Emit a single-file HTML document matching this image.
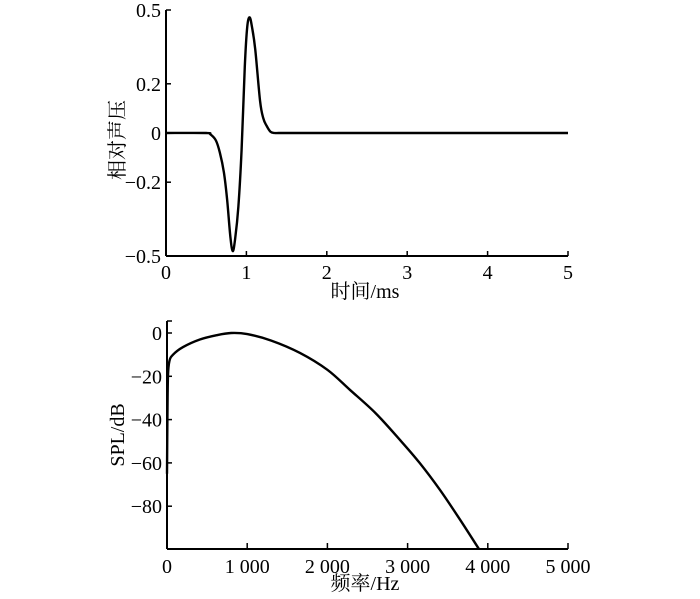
<!DOCTYPE html>
<html><head><meta charset="utf-8"><style>
body{margin:0;background:#fff;}
text{font-family:"Liberation Serif","Noto Serif CJK SC",serif;fill:#000;}
</style></head><body>
<svg id="c" width="700" height="594" viewBox="0 0 700 594"></svg>
<script>
const timeVals=[0,0.5,0.55,0.62,0.67,0.72,0.76,0.8,0.83,0.86,0.9,0.94,0.98,1.01,1.04,1.07,1.11,1.17,1.21,1.25,1.3,1.35,1.4,1.5,2,3,4,5];
const pressureVals=[0,0,-0.005,-0.03,-0.08,-0.16,-0.27,-0.42,-0.48,-0.43,-0.3,-0.07,0.27,0.43,0.47,0.43,0.34,0.13,0.06,0.03,0.005,0,0,0,0,0,0,0];
const topXTicks=[0,1,2,3,4,5];
const topYTicks=[0.5,0.2,0,-0.2,-0.5];
const topYLabels=["0.5","0.2","0","\u22120.2","\u22120.5"];
const freqVals=[0,5,12,30,75,200,410,620,800,1000,1300,1658,2000,2282,2600,2905,3150,3404,3650,3890];
const splVals=[-65,-40,-20,-13,-10,-6.5,-3,-1,0,-0.5,-3.5,-9.2,-17,-26.3,-37,-49.4,-60,-72.5,-86,-99.8];
const botXTicks=[0,1000,2000,3000,4000,5000];
const botXLabels=["0","1 000","2 000","3 000","4 000","5 000"];
const botYTicks=[0,-20,-40,-60,-80];
const botYLabels=["0","\u221220","\u221240","\u221260","\u221280"];

const svg=document.getElementById('c');
const NS='http://www.w3.org/2000/svg';
function mk(tag,attrs,parent){const e=document.createElementNS(NS,tag);for(const k in attrs)e.setAttribute(k,attrs[k]);(parent||svg).appendChild(e);return e;}
function smooth(pts){
  let d='M'+pts[0][0]+','+pts[0][1];
  for(let i=0;i<pts.length-1;i++){
    const p0=pts[Math.max(0,i-1)],p1=pts[i],p2=pts[i+1],p3=pts[Math.min(pts.length-1,i+2)];
    const t=1/6;
    const c1=[p1[0]+(p2[0]-p0[0])*t,p1[1]+(p2[1]-p0[1])*t];
    const c2=[p2[0]-(p3[0]-p1[0])*t,p2[1]-(p3[1]-p1[1])*t];
    d+=' C'+c1[0]+','+c1[1]+' '+c2[0]+','+c2[1]+' '+p2[0]+','+p2[1];
  }
  return d;
}
const tx=v=>166+v*80.4;
const ty=v=>133-v*246;
const bx=v=>167+v*0.0802;
const byf=v=>333-v*2.165;
const FS=20;

function drawAxes(x0,yTop,yBot,xRight,name){
  const g=mk('g',{});
  
  
  mk('line',{x1:x0,y1:yTop,x2:x0,y2:yBot,stroke:'#000','stroke-width':2},g);
  mk('line',{x1:x0,y1:yBot,x2:xRight,y2:yBot,stroke:'#000','stroke-width':2},g);
  return g;
}

const ga=drawAxes(166,10,256,568,'top');
topXTicks.forEach((t)=>{
  const x=tx(t);
  mk('line',{x1:x,y1:256,x2:x,y2:251,stroke:'#000','stroke-width':1.5},ga);
  const tt=mk('text',{x:x,y:279,'text-anchor':'middle','font-size':FS},ga);tt.textContent=t;
  
  
});
topYTicks.forEach((t,i)=>{
  const y=ty(t);
  mk('line',{x1:166,y1:y,x2:171,y2:y,stroke:'#000','stroke-width':1.5},ga);
  const tt=mk('text',{x:161,y:y+7,'text-anchor':'end','font-size':FS},ga);tt.textContent=topYLabels[i];
  
  
});
const pp=mk('path',{d:smooth(timeVals.map((t,i)=>[tx(t),ty(pressureVals[i])])),fill:'none',stroke:'#000','stroke-width':2.4,'stroke-linejoin':'round'});


let l=mk('text',{x:365,y:298,'text-anchor':'middle','font-size':FS});l.textContent='时间/ms';


l=mk('text',{x:0,y:0,'text-anchor':'middle','font-size':FS,transform:'translate(124,140) rotate(-90)'});l.textContent='相对声压';



const gb=drawAxes(167,321,549,568,'bottom');
botXTicks.forEach((t,i)=>{
  const x=bx(t);
  mk('line',{x1:x,y1:549,x2:x,y2:543,stroke:'#000','stroke-width':1.5},gb);
  const tt=mk('text',{x:x,y:573,'text-anchor':'middle','font-size':FS},gb);tt.textContent=botXLabels[i];
  
  
});
mk('line',{x1:167,y1:321,x2:172,y2:321,stroke:'#000','stroke-width':1.5},gb);
botYTicks.forEach((t,i)=>{
  const y=byf(t);
  mk('line',{x1:167,y1:y,x2:172,y2:y,stroke:'#000','stroke-width':1.5},gb);
  const tt=mk('text',{x:162,y:y+7,'text-anchor':'end','font-size':FS},gb);tt.textContent=botYLabels[i];
  
  
});
const sp=mk('path',{d:smooth(freqVals.map((f,i)=>[bx(f),byf(splVals[i])])),fill:'none',stroke:'#000','stroke-width':2.4,'stroke-linejoin':'round'});


l=mk('text',{x:365,y:590,'text-anchor':'middle','font-size':FS});l.textContent='频率/Hz';


l=mk('text',{x:0,y:0,'text-anchor':'middle','font-size':FS,transform:'translate(124,435) rotate(-90)'});l.textContent='SPL/dB';


</script>
</body></html>
